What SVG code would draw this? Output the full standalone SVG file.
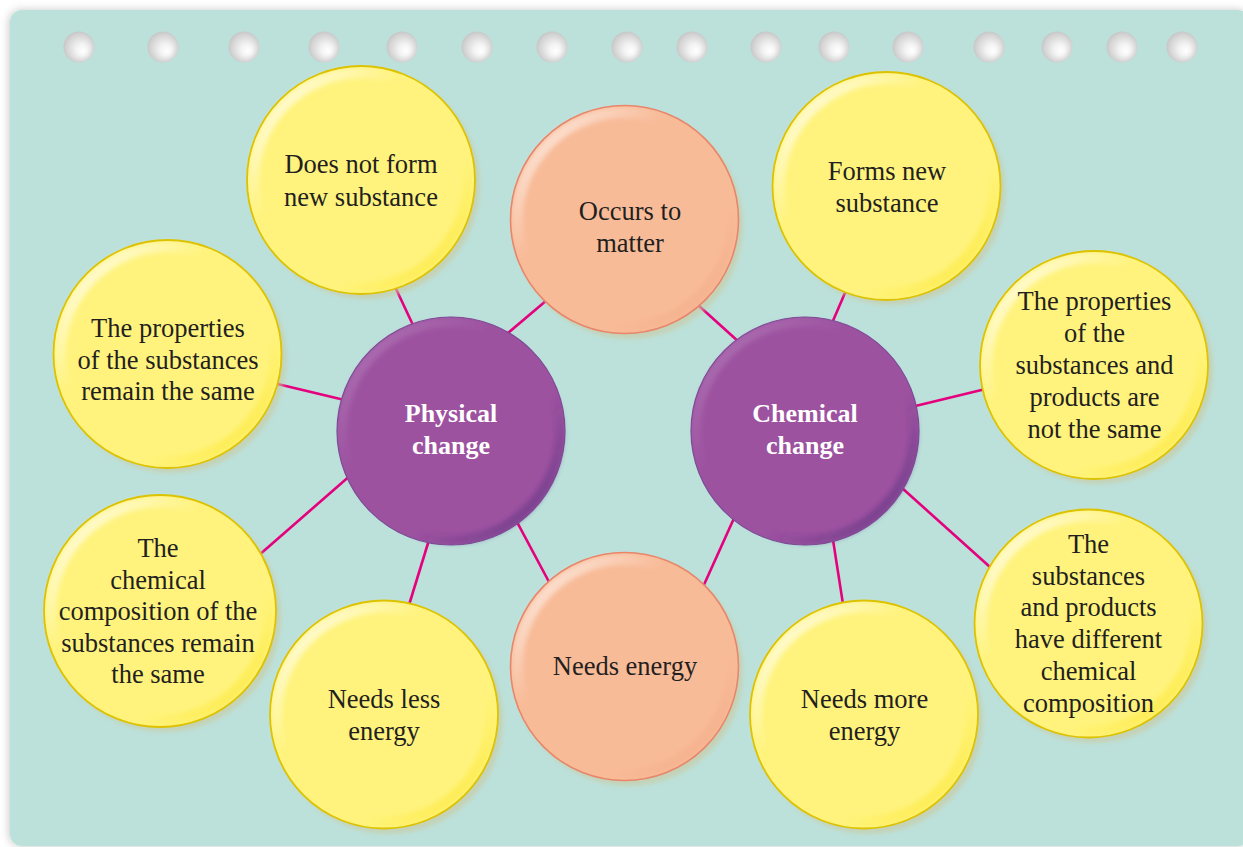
<svg xmlns="http://www.w3.org/2000/svg" width="1243" height="847" viewBox="0 0 1243 847">
  <style>
    .t { font-family: "Liberation Serif", "DejaVu Serif", serif; font-size: 26.5px; fill: #231f20; text-anchor: middle; }
    .tb { font-family: "Liberation Serif", "DejaVu Serif", serif; font-size: 26px; font-weight: bold; fill: #ffffff; text-anchor: middle; }
    .hole { fill: url(#holeGrad); }
    .link { stroke: #e5007d; stroke-width: 2.6; fill: none; stroke-linecap: butt; }
    .shade { fill: #cbc9a0; opacity: 0.6; filter: url(#soft); }
    .yel { fill: #fff37d; }
    .yel-bev { fill: none; stroke: url(#bevYel); stroke-width: 11; filter: url(#soft); }
    .yel-rim { fill: none; stroke: #dcc200; stroke-width: 1.8; }
    .sal { fill: #f8bb98; }
    .sal-bev { fill: none; stroke: url(#bevSal); stroke-width: 11; filter: url(#soft); }
    .sal-rim { fill: none; stroke: #e8866a; stroke-width: 1.6; }
    .pur { fill: #9d52a0; }
    .pur-bev { fill: none; stroke: url(#bevPur); stroke-width: 10; filter: url(#soft); }
    .pur-rim { fill: none; stroke: #7d4a96; stroke-width: 1.2; }
  </style>
  <defs>
    <filter id="panelShadow" x="-5%" y="-5%" width="110%" height="110%">
      <feDropShadow dx="-1" dy="0" stdDeviation="4" flood-color="#000000" flood-opacity="0.22"/>
    </filter>
    <filter id="soft" x="-10%" y="-10%" width="120%" height="120%">
      <feGaussianBlur stdDeviation="2.2"/>
    </filter>
    <radialGradient id="holeGrad" cx="0.5" cy="0.5" r="0.6" fx="0.64" fy="0.64">
      <stop offset="0" stop-color="#ffffff"/>
      <stop offset="0.3" stop-color="#f4f4f4"/>
      <stop offset="0.75" stop-color="#d2d2d2"/>
      <stop offset="1" stop-color="#b9b9b9"/>
    </radialGradient>
    <linearGradient id="bevYel" x1="0" y1="0" x2="1" y2="1">
      <stop offset="0" stop-color="#ffffff" stop-opacity="0.95"/>
      <stop offset="0.35" stop-color="#ffffff" stop-opacity="0"/>
      <stop offset="0.7" stop-color="#ffe600" stop-opacity="0"/>
      <stop offset="1" stop-color="#f2d800" stop-opacity="0.55"/>
    </linearGradient>
    <linearGradient id="bevSal" x1="0" y1="0" x2="1" y2="1">
      <stop offset="0" stop-color="#ffffff" stop-opacity="0.8"/>
      <stop offset="0.35" stop-color="#ffffff" stop-opacity="0"/>
      <stop offset="0.7" stop-color="#f0a07c" stop-opacity="0"/>
      <stop offset="1" stop-color="#ee9c78" stop-opacity="0.5"/>
    </linearGradient>
    <linearGradient id="bevPur" x1="0" y1="0" x2="1" y2="1">
      <stop offset="0" stop-color="#c7a3cf" stop-opacity="0.45"/>
      <stop offset="0.35" stop-color="#c7a3cf" stop-opacity="0"/>
      <stop offset="0.65" stop-color="#4a2a78" stop-opacity="0"/>
      <stop offset="1" stop-color="#4a2a78" stop-opacity="0.65"/>
    </linearGradient>
  </defs>

  <!-- page -->
  <rect x="0" y="0" width="1243" height="847" fill="#ffffff"/>
  <rect x="10" y="10" width="1240" height="836" rx="12" fill="#bce1da" filter="url(#panelShadow)"/>

  <!-- ring-binder holes -->
  <g id="holes">
    <circle class="hole" cx="79" cy="47" r="15.5"/>
    <circle class="hole" cx="163" cy="47" r="15.5"/>
    <circle class="hole" cx="244" cy="47" r="15.5"/>
    <circle class="hole" cx="324" cy="47" r="15.5"/>
    <circle class="hole" cx="402" cy="47" r="15.5"/>
    <circle class="hole" cx="477" cy="47" r="15.5"/>
    <circle class="hole" cx="552" cy="47" r="15.5"/>
    <circle class="hole" cx="627" cy="47" r="15.5"/>
    <circle class="hole" cx="692" cy="47" r="15.5"/>
    <circle class="hole" cx="766" cy="47" r="15.5"/>
    <circle class="hole" cx="834" cy="47" r="15.5"/>
    <circle class="hole" cx="908" cy="47" r="15.5"/>
    <circle class="hole" cx="989" cy="47" r="15.5"/>
    <circle class="hole" cx="1057" cy="47" r="15.5"/>
    <circle class="hole" cx="1122" cy="47" r="15.5"/>
    <circle class="hole" cx="1182" cy="47" r="15.5"/>
  </g>

  <!-- connectors (drawn under the circles) -->
  <g id="connectors">
    <line class="link" x1="390" y1="276" x2="420" y2="340"/>
    <line class="link" x1="495" y1="344" x2="560" y2="289"/>
    <line class="link" x1="265" y1="381" x2="357" y2="403"/>
    <line class="link" x1="250" y1="563" x2="360" y2="467"/>
    <line class="link" x1="405" y1="618" x2="433" y2="527"/>
    <line class="link" x1="509" y1="507" x2="556" y2="595"/>
    <line class="link" x1="688" y1="296" x2="750" y2="352"/>
    <line class="link" x1="851" y1="279" x2="826" y2="337"/>
    <line class="link" x1="903" y1="409" x2="998" y2="386"/>
    <line class="link" x1="892" y1="479" x2="1000" y2="576"/>
    <line class="link" x1="831" y1="527" x2="845" y2="617"/>
    <line class="link" x1="740" y1="505" x2="698" y2="598"/>
  </g>

  <!-- Physical change -->
  <g id="node-physical">
    <circle class="pur" cx="451" cy="431" r="114"/>
    <circle class="pur-bev" cx="451" cy="431" r="109"/>
    <circle class="pur-rim" cx="451" cy="431" r="114"/>
    <text class="tb" x="451" y="422">Physical</text>
    <text class="tb" x="451" y="454">change</text>
  </g>

  <!-- Chemical change -->
  <g id="node-chemical">
    <circle class="pur" cx="805" cy="431" r="114"/>
    <circle class="pur-bev" cx="805" cy="431" r="109"/>
    <circle class="pur-rim" cx="805" cy="431" r="114"/>
    <text class="tb" x="805" y="422">Chemical</text>
    <text class="tb" x="805" y="454">change</text>
  </g>

  <!-- Occurs to matter -->
  <g id="node-occurs">
    <circle class="shade" cx="629" cy="225" r="114"/>
    <circle class="sal" cx="624.5" cy="219.5" r="114"/>
    <circle class="sal-bev" cx="624.5" cy="219.5" r="107"/>
    <circle class="sal-rim" cx="624.5" cy="219.5" r="114"/>
    <text class="t" x="630" y="220">Occurs to</text>
    <text class="t" x="630" y="252">matter</text>
  </g>

  <!-- Needs energy -->
  <g id="node-needs-energy">
    <circle class="shade" cx="629" cy="672" r="114"/>
    <circle class="sal" cx="624.5" cy="666.5" r="114"/>
    <circle class="sal-bev" cx="624.5" cy="666.5" r="107"/>
    <circle class="sal-rim" cx="624.5" cy="666.5" r="114"/>
    <text class="t" x="625" y="675">Needs energy</text>
  </g>

  <!-- Does not form new substance -->
  <g id="node-no-new-substance">
    <circle class="shade" cx="366" cy="185" r="114"/>
    <circle class="yel" cx="361" cy="180" r="114"/>
    <circle class="yel-bev" cx="361" cy="180" r="107"/>
    <circle class="yel-rim" cx="361" cy="180" r="114"/>
    <text class="t" x="361" y="173">Does not form</text>
    <text class="t" x="361" y="205.5">new substance</text>
  </g>

  <!-- The properties of the substances remain the same -->
  <g id="node-properties-same">
    <circle class="shade" cx="172.5" cy="359" r="114"/>
    <circle class="yel" cx="167.5" cy="354" r="114"/>
    <circle class="yel-bev" cx="167.5" cy="354" r="107"/>
    <circle class="yel-rim" cx="167.5" cy="354" r="114"/>
    <text class="t" x="168" y="337">The properties</text>
    <text class="t" x="168" y="368.5">of the substances</text>
    <text class="t" x="168" y="400">remain the same</text>
  </g>

  <!-- The chemical composition of the substances remain the same -->
  <g id="node-composition-same">
    <circle class="shade" cx="165" cy="616" r="116"/>
    <circle class="yel" cx="160" cy="611" r="116"/>
    <circle class="yel-bev" cx="160" cy="611" r="109"/>
    <circle class="yel-rim" cx="160" cy="611" r="116"/>
    <text class="t" x="158" y="557">The</text>
    <text class="t" x="158" y="588.5">chemical</text>
    <text class="t" x="158" y="620">composition of the</text>
    <text class="t" x="158" y="651.5">substances remain</text>
    <text class="t" x="158" y="683">the same</text>
  </g>

  <!-- Needs less energy -->
  <g id="node-less-energy">
    <circle class="shade" cx="389" cy="720" r="114"/>
    <circle class="yel" cx="384" cy="714.5" r="114"/>
    <circle class="yel-bev" cx="384" cy="714.5" r="107"/>
    <circle class="yel-rim" cx="384" cy="714.5" r="114"/>
    <text class="t" x="384" y="708">Needs less</text>
    <text class="t" x="384" y="739.5">energy</text>
  </g>

  <!-- Forms new substance -->
  <g id="node-new-substance">
    <circle class="shade" cx="891.5" cy="191" r="114"/>
    <circle class="yel" cx="886.5" cy="186" r="114"/>
    <circle class="yel-bev" cx="886.5" cy="186" r="107"/>
    <circle class="yel-rim" cx="886.5" cy="186" r="114"/>
    <text class="t" x="887" y="180">Forms new</text>
    <text class="t" x="887" y="212">substance</text>
  </g>

  <!-- The properties of the substances and products are not the same -->
  <g id="node-properties-differ">
    <circle class="shade" cx="1099" cy="370" r="114"/>
    <circle class="yel" cx="1094" cy="365" r="114"/>
    <circle class="yel-bev" cx="1094" cy="365" r="107"/>
    <circle class="yel-rim" cx="1094" cy="365" r="114"/>
    <text class="t" x="1094.5" y="310">The properties</text>
    <text class="t" x="1094.5" y="342">of the</text>
    <text class="t" x="1094.5" y="373.5">substances and</text>
    <text class="t" x="1094.5" y="405.5">products are</text>
    <text class="t" x="1094.5" y="437.5">not the same</text>
  </g>

  <!-- The substances and products have different chemical composition -->
  <g id="node-composition-differ">
    <circle class="shade" cx="1093.5" cy="629" r="114"/>
    <circle class="yel" cx="1088.5" cy="623.5" r="114"/>
    <circle class="yel-bev" cx="1088.5" cy="623.5" r="107"/>
    <circle class="yel-rim" cx="1088.5" cy="623.5" r="114"/>
    <text class="t" x="1088.5" y="552.5">The</text>
    <text class="t" x="1088.5" y="584.5">substances</text>
    <text class="t" x="1088.5" y="616">and products</text>
    <text class="t" x="1088.5" y="648">have different</text>
    <text class="t" x="1088.5" y="680">chemical</text>
    <text class="t" x="1088.5" y="712">composition</text>
  </g>

  <!-- Needs more energy -->
  <g id="node-more-energy">
    <circle class="shade" cx="869" cy="720" r="114"/>
    <circle class="yel" cx="864" cy="714.5" r="114"/>
    <circle class="yel-bev" cx="864" cy="714.5" r="107"/>
    <circle class="yel-rim" cx="864" cy="714.5" r="114"/>
    <text class="t" x="864.5" y="708">Needs more</text>
    <text class="t" x="864.5" y="739.5">energy</text>
  </g>
</svg>
